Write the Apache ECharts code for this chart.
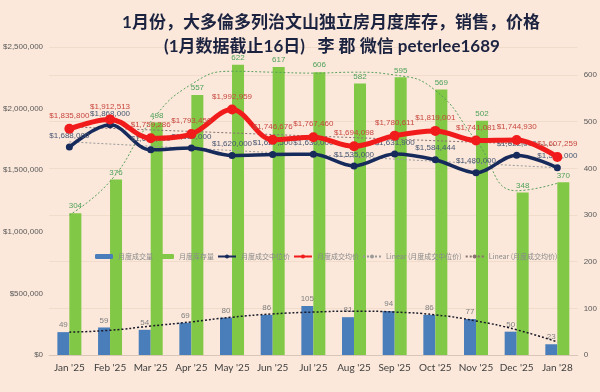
<!DOCTYPE html>
<html><head><meta charset="utf-8">
<script src="https://cdn.jsdelivr.net/npm/echarts@6/dist/echarts.min.js"></script>
<style>html,body{margin:0;padding:0;background:#fbe8da}#c{width:600px;height:392px}</style>
</head><body><div id="c"></div>
<script>
const categories = ["Jan '25","Feb '25","Mar '25","Apr '25","May '25","Jun '25","Jul '25","Aug '25","Sep '25","Oct '25","Nov '25","Dec '25","Jan '28"];
const salesVolume = [49,59,54,69,80,86,105,81,94,86,77,50,23];
const inventory = [304,376,498,557,622,617,606,582,595,569,502,348,370];
const medianPrice = [1688000,1868000,1665000,1680000,1620000,1627500,1630000,1535000,1631900,1584444,1480000,1622000,1520000];
const avgPrice = [1835800,1912513,1759286,1793450,1992959,1746676,1767460,1694098,1780611,1819001,1741081,1744930,1607259];
// trend curves
const inventoryTrend = [300,372,500,580,608,606,604,606,600,567,460,352,368];
const salesTrend = [49,53,62,71,81,88,92,94,92,86,73,54,28];
const medianTrendEnds = [1730000,1520000];
const avgTrendEnds = [1852000,1702000];
const leftMax = 2500000, leftInterval = 500000;
const rightMax = 660, rightInterval = 100;

const money = v => '$' + Math.round(v).toLocaleString('en-US');
const lblFont = "'Liberation Sans Narrow','Liberation Sans',sans-serif";
const titleFont = "Lato,'Noto Sans CJK SC',sans-serif";
const chart = echarts.init(document.getElementById('c'), null, {renderer:'canvas'});
chart.setOption({
  backgroundColor:'#fbe8da',
  animation:false,
  title:[
    {text:'1月份，大多倫多列治文山独立房月度库存，销售，价格', left:326, top:9, textAlign:'center',
     textStyle:{fontFamily:titleFont, fontSize:17, fontWeight:'bold', color:'#1c2340'}},
    {text:'(1月数据截止16日)   李 郡 微信 peterlee1689', left:327, top:33, textAlign:'center',
     textStyle:{fontFamily:titleFont, fontSize:17, fontWeight:'bold', color:'#1c2340'}}
  ],
  legend:{
    top:248, left:90, width:520, itemGap:3, itemWidth:18, itemHeight:5,
    textStyle:{fontSize:7, color:'#8a8a8a', fontFamily:"'Noto Sans CJK SC',sans-serif"},
    data:['月度成交量','月度库存量','月度成交中位价','月度成交均价','Linear (月度成交中位价)','Linear (月度成交均价)']
  },
  grid:{left:48, right:21, top:47, bottom:37},
  xAxis:{type:'category', data:categories,
    axisLine:{lineStyle:{color:'#d8c6b8'}}, axisTick:{show:false},
    axisLabel:{fontSize:10, color:'#404040', margin:8, fontFamily:"Lato,sans-serif", interval:0}},
  yAxis:[
    {type:'value', min:0, max:leftMax, interval:leftInterval, position:'left',
     axisLine:{show:false}, axisTick:{show:false}, splitLine:{show:false},
     axisLabel:{fontSize:8, color:'#595959', margin:6, formatter:v=>money(v), fontFamily:lblFont}},
    {type:'value', min:0, max:rightMax, interval:rightInterval, position:'right',
     axisLine:{show:false}, axisTick:{show:false},
     splitLine:{show:true, lineStyle:{color:'#f1dccc', width:1}},
     axisLabel:{fontSize:8, color:'#595959', margin:6, formatter:v=> (v % 100 === 0 ? String(v) : ''), fontFamily:lblFont}}
  ],
  series:[
    {name:'月度成交量', type:'bar', yAxisIndex:1, data:salesVolume, barWidth:12, barGap:'0%',
     itemStyle:{color:'#4a7ebb'}, label:{show:true, position:'top', fontSize:8, color:'#7f7f7f', distance:3, fontFamily:lblFont}},
    {name:'月度库存量', type:'bar', yAxisIndex:1, data:inventory, barWidth:12, barGap:'0%',
     itemStyle:{color:'#80c845'}, label:{show:true, position:'top', fontSize:8, color:'#4fa25a', distance:3, fontFamily:lblFont}},
    {name:'库存趋势', type:'line', yAxisIndex:1, data:inventoryTrend, smooth:0.5, symbol:'none', silent:true,
     lineStyle:{color:'#5aa05a', width:1, type:[2,2]}, z:3},
    {name:'成交趋势', type:'line', yAxisIndex:1, data:salesTrend, smooth:0.5, symbol:'none', silent:true,
     lineStyle:{color:'#1a1a2a', width:1.5, type:[2,2]}, z:3},
    {name:'Linear (月度成交中位价)', type:'line', yAxisIndex:0,
     data:[[categories[0], medianTrendEnds[0]],[categories[categories.length-1], medianTrendEnds[1]]],
     symbol:'none', lineStyle:{color:'#9a9a9a', width:1, type:[2,2]}, itemStyle:{color:'#9a9a9a'}, z:3},
    {name:'Linear (月度成交均价)', type:'line', yAxisIndex:0,
     data:[[categories[0], avgTrendEnds[0]],[categories[categories.length-1], avgTrendEnds[1]]],
     symbol:'none', lineStyle:{color:'#8a7070', width:1, type:[2,2]}, itemStyle:{color:'#8a7070'}, z:3},
    {name:'月度成交中位价', type:'line', yAxisIndex:0, data:medianPrice, smooth:0.35,
     symbol:'circle', symbolSize:7, lineStyle:{color:'#172a5c', width:3.5}, itemStyle:{color:'#172a5c'},
     label:{show:true, position:'top', distance:4, fontSize:8, color:'#485672', formatter:p=>money(p.value), fontFamily:lblFont}, z:5},
    {name:'月度成交均价', type:'line', yAxisIndex:0, data:avgPrice, smooth:0.35,
     symbol:'circle', symbolSize:10, lineStyle:{color:'#f21b1b', width:5}, itemStyle:{color:'#f21b1b'},
     label:{show:true, position:'top', distance:4, fontSize:8, color:'#c8473f', formatter:p=>money(p.value), fontFamily:lblFont}, z:6}
  ]
});
</script></body></html>
